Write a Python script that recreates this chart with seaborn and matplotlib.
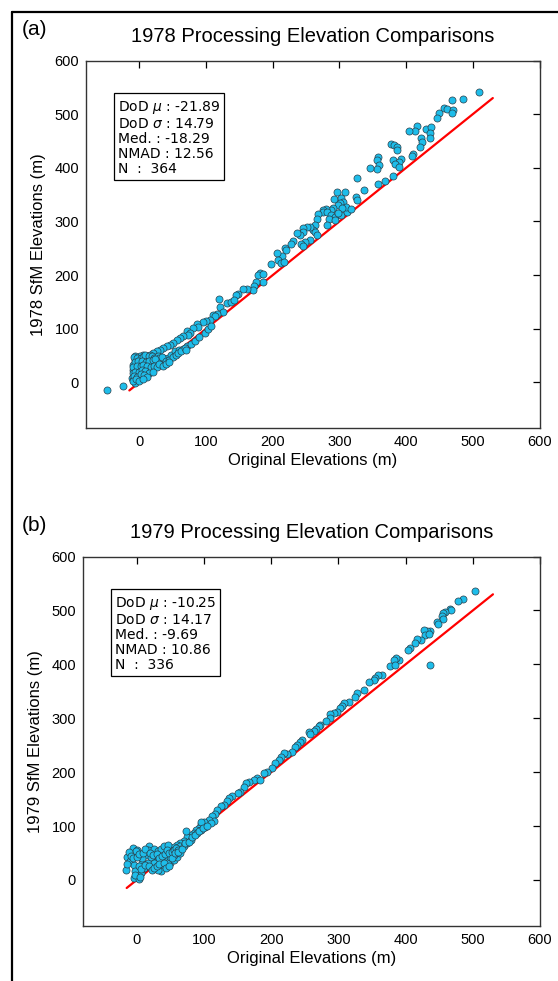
import numpy as np
import pandas as pd
import seaborn as sns
import matplotlib.pyplot as plt
from matplotlib.lines import Line2D

# ---- data (original vs SfM elevations, m) ----
orig_1978 = [509, 486, 469, 457, 462, 449, 447, 471, 469, 417, 414, 405, 430, 437, 436, 436, 423, 424, 421, 411,
             409, 378, 382, 386, 387, 381, 392, 390, 384, 390, 380, 358, 356, 359, 356, 346, 358, 368, 337, 327,
             325, 327, 296, 309, 292, 303, 306, 301, 298, 291, 287, 280, 276, 275, 282, 288, 293, 303, 311, 310,
             317, 304, 298, 284, 282, 293, 268, 266, 263, 261, 263, 266, 256, 251, 246, 246, 241, 237, 256, 248,
             243, 245, 231, 228, 218, 220, 214, 206, 208, 213, 217, 197, 181, 178, 186, 185, 175, 172, 170,
             -48, -24, 161, 156, 148, 145, 119, 121, 131, 138, 142, 126, 117, 111, 113, 106, 100, 95, 86, 88,
             81, 72, 76, 73, 72, 66, 61, 56, 51, 46, 42, 36, 31, 26, 21, 16, 11, 6, 1, -6,
             -6, -9, -10, -11, -9, -4, 1, 3, 8, 13, 18, 25, 6, 11, 16, 21, 26, 31, 36, 11,
             18, 23, 28, 33, 38, 43, 48, 53, 1, 3, -3, -6,
             -8, -3, 2, 5, 9, 14, 19, 22, 28, 30, 34, -7, -2, 4, 10, 15, 20, 24, -9, -4,
             2, 6, 12, 17, 22, 27, 30, -10, -6, -1, 4, 9, 14, 20, -8, -3, 2, 7, 12, -10,
             -5, 0, 5, 40, 45, 50, 55, 35, 40, 45, 60, 65, 58, 62, 68, 70, 78, 83, 90, 98,
             103, 108]
sfm_1978 = [542, 529, 526, 511, 510, 502, 492, 508, 502, 477, 469, 469, 472, 476, 464, 456, 456, 448, 439, 425,
            422, 444, 443, 438, 433, 415, 416, 410, 407, 402, 385, 420, 415, 406, 397, 399, 369, 376, 358, 381,
            345, 340, 354, 354, 342, 343, 337, 335, 330, 325, 322, 323, 322, 318, 317, 312, 309, 312, 318, 327,
            323, 326, 315, 304, 294, 303, 314, 304, 294, 284, 281, 275, 290, 289, 288, 281, 275, 278, 266, 261,
            258, 254, 263, 258, 250, 246, 236, 241, 228, 222, 224, 221, 204, 200, 202, 188, 188, 179, 172,
            -14, -6, 174, 174, 164, 163, 156, 141, 148, 149, 153, 132, 128, 126, 123, 117, 115, 112, 109, 104,
            101, 95, 92, 89, 67, 87, 82, 79, 74, 70, 67, 64, 61, 59, 54, 51, 49, 51, 49, 50,
            42, 33, 23, 9, 5, 14, 26, 36, 42, 45, 47, 48, 20, 26, 33, 36, 39, 42, 45, 16,
            23, 28, 33, 36, 39, 45, 51, 58, 8, 12, 4, -1,
            48, 46, 45, 47, 51, 50, 50, 46, 50, 45, 48, 38, 40, 40, 38, 40, 42, 44, 28, 30,
            30, 33, 30, 28, 30, 28, 35, 18, 20, 20, 24, 22, 18, 20, 12, 10, 16, 14, 10, 2,
            6, 2, 6, 40, 42, 47, 52, 30, 35, 38, 60, 63, 55, 58, 65, 60, 72, 78, 85, 92,
            100, 105]

orig_1979 = [503, 485, 478, 466, 468, 459, 455, 454, 456, 447, 448, 437, 432, 427, 429, 435, 423, 417, 414, 407,
             404, 436, 390, 386, 383, 377, 384, 365, 359, 355, 353, 345, 338, 327, 325, 316, 309, 305, 303, 298,
             293, 288, 287, 281, 273, 271, 266, 263, 256, 258, 246, 243, 239, 236, 231, 223, 219, 214, 211, 206,
             201, 194, 189, 179, 174, 184,
             167, 163, 159, 154, 150, 142, 137, 135, 130, 125, 120, 117, 112, 115, 107, 100, 95, 92, 88, 85,
             80, 75, 73, 70, 65, 60, 55, 50, 43, 38, 33, 28, 22, 16, 11, 6, 1, -4, 3, -6,
             1, -1, -15, -10, -4, -16, -3, 18, 16, 26, 31, 36, 41, 46, 13, 21, 28, 36, 41, 46,
             50, 55, 60, 65, 65, 36, 31, 26, 8, 8, 46, 41, 50, 55, 70, 75, 80, 90, 95, 102,
             110, 95, 36,
             -12, -8, -5, 0, 4, 10, 12, 20, 24, 30, 33, 38, 42, 45, 48, 52, 56, 58, 62, 3,
             7, 12, 18, 22, 25, 30, 33, 40, 44, 48, 52, 57, 62, 67, 72, 78, 82, 86, 92, 98,
             105, -14, -2, 5]
sfm_1979 = [537, 521, 517, 503, 501, 498, 495, 490, 484, 479, 475, 462, 461, 463, 455, 457, 445, 447, 439, 430,
            426, 399, 408, 411, 408, 397, 399, 380, 380, 374, 371, 368, 353, 346, 340, 331, 328, 322, 319, 311,
            309, 308, 300, 294, 288, 285, 280, 277, 274, 270, 260, 255, 250, 246, 238, 234, 235, 228, 223, 217,
            207, 201, 198, 189, 186, 186,
            182, 179, 172, 164, 161, 155, 152, 147, 139, 137, 130, 122, 119, 110, 111, 108, 104, 96, 93, 87,
            84, 79, 90, 73, 69, 65, 61, 56, 53, 50, 45, 40, 37, 31, 22, 12, 6, 3, 1, 59,
            56, 53, 43, 35, 28, 19, 16, 62, 56, 57, 53, 57, 62, 65, 46, 43, 34, 28, 25, 28,
            31, 37, 43, 50, 62, 16, 19, 31, 31, 40, 37, 43, 43, 46, 62, 68, 74, 87, 93, 99,
            105, 108, 37,
            52, 45, 40, 42, 48, 50, 58, 50, 46, 48, 40, 45, 48, 55, 50, 52, 55, 60, 56, 25,
            20, 28, 25, 18, 22, 25, 30, 32, 22, 25, 40, 50, 52, 58, 68, 70, 80, 84, 90, 96,
            100, 30, 10, 5]

one_to_one = [-15, 530]

stats_1978 = "DoD $\\mu$ : -21.89\nDoD $\\sigma$ : 14.79\nMed. : -18.29\nNMAD : 12.56\nN  :  364"
stats_1979 = "DoD $\\mu$ : -10.25\nDoD $\\sigma$ : 14.17\nMed. : -9.69\nNMAD : 10.86\nN  :  336"

panels = [
    ("(a)", "1978 Processing Elevation Comparisons", "1978 SfM Elevations (m)", orig_1978, sfm_1978, stats_1978),
    ("(b)", "1979 Processing Elevation Comparisons", "1979 SfM Elevations (m)", orig_1979, sfm_1979, stats_1979),
]

sns.set_theme(style="white")
plt.rcParams['font.family'] = ['Liberation Sans', 'DejaVu Sans']
plt.rcParams['mathtext.fontset'] = 'dejavusans'
plt.rcParams['text.color'] = 'black'
plt.rcParams['axes.labelcolor'] = 'black'

fig = plt.figure(figsize=(5.58, 9.81), dpi=100)
W, H = 558, 981

# axes boxes in pixels: left, top, right, bottom
boxes = [(86, 60.5, 539.5, 428), (83, 556.6, 540, 925.7)]

for (tag, title, ylab, xs, ys, stats), (l, t, r, b) in zip(panels, boxes):
    ax = fig.add_axes([l / W, 1 - b / H, (r - l) / W, (b - t) / H])
    df = pd.DataFrame({"orig": xs, "sfm": ys})
    sns.lineplot(x=one_to_one, y=one_to_one, ax=ax, color="red", lw=1.6, zorder=1)
    sns.scatterplot(data=df, x="orig", y="sfm", ax=ax, color="#1EBDEA", edgecolor="#2a3f4a",
                    linewidth=0.5, s=26, zorder=2)
    ax.set_xlim(-80, 600)
    ax.set_ylim(-85, 600)
    ax.set_xticks(range(0, 601, 100))
    ax.set_yticks(range(0, 601, 100))
    ax.tick_params(direction="in", top=True, right=True, length=5, width=0.9,
                   labelsize=10.5, colors="black", pad=5)
    for sp in ax.spines.values():
        sp.set_color("#333333")
        sp.set_linewidth(1.0)
    ax.set_xlabel("Original Elevations (m)", fontsize=12, labelpad=3)
    ax.set_ylabel(ylab, fontsize=12, labelpad=6)
    ax.text(0.07, 0.895, stats, transform=ax.transAxes, fontsize=10, va="top", ha="left",
            family="DejaVu Sans", linespacing=1.08, color="black",
            bbox=dict(boxstyle="square,pad=0.3", fc="white", ec="black", lw=0.9))
    fig.text((l + r) / 2 / W, 1 - (t - 24) / H, title, ha="center", va="center", fontsize=14.5)
    fig.text(22 / W, 1 - (t - 31) / H, tag, ha="left", va="center", fontsize=15)

# frame lines at the top and left edges
fig.add_artist(Line2D([12 / W, 1], [1 - 12 / H, 1 - 12 / H], color="black", lw=1.6))
fig.add_artist(Line2D([12 / W, 12 / W], [0, 1 - 12 / H], color="black", lw=1.6))

fig.savefig("out.png", dpi=100)
